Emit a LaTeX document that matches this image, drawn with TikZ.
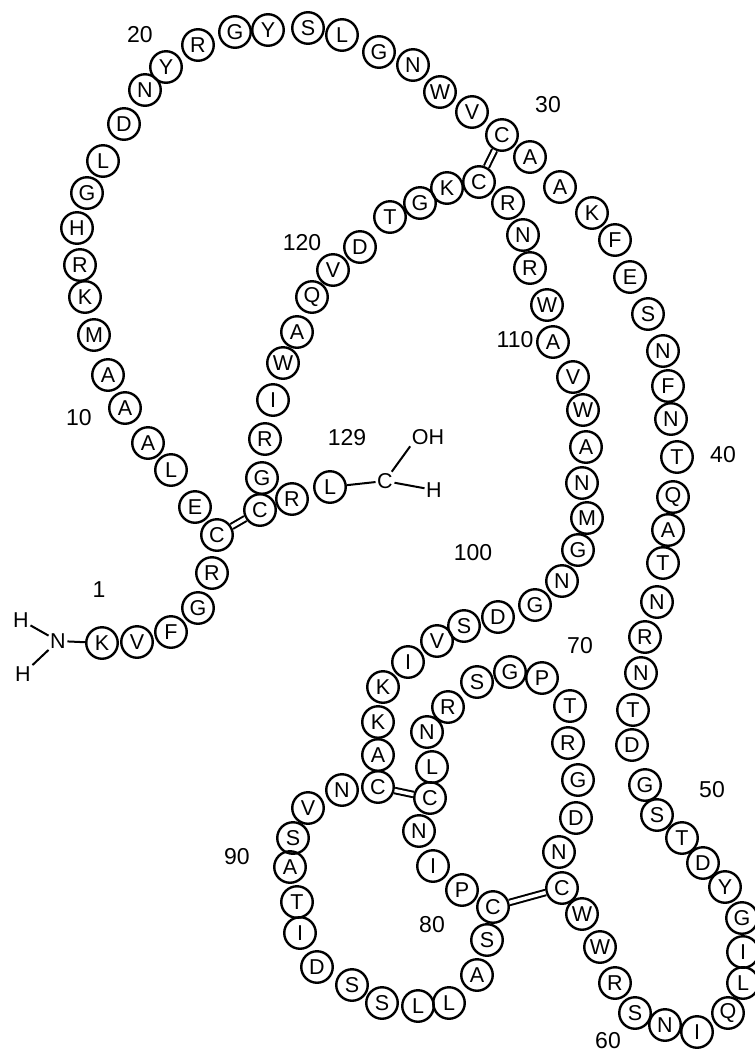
\documentclass[tikz,border=0pt]{standalone}
\usepackage{fontspec}
\setmainfont{Liberation Sans}
\begin{document}
\begin{tikzpicture}[x=1pt,y=-1pt,
  res/.style={circle,draw,line width=2.4pt,minimum size=31.5pt,inner sep=0pt,font=\fontsize{21.5}{21.5}\selectfont},
  lab/.style={font=\fontsize{23}{23}\selectfont,inner sep=0pt},
  atom/.style={font=\fontsize{21.5}{21.5}\selectfont,inner sep=1.5pt},
  ss/.style={line width=2pt,double,double distance=3.5pt},
  bond/.style={line width=2pt}]
\useasboundingbox (0,0) rectangle (755,1053);
\foreach \n/\l/\x/\y in {
1/K/102/643, 2/V/137/642, 3/F/171/632, 4/G/198/608, 5/R/212/573,
6/C/217/535, 7/E/195/507, 8/L/171/470, 9/A/148/443, 10/A/125/408,
11/A/108/375, 12/M/94/335, 13/K/85/297, 14/R/80/265, 15/H/77/228,
16/G/87/193, 17/L/103/161, 18/D/124/124, 19/N/145/90, 20/Y/166/67,
21/R/198/45, 22/G/235/32, 23/Y/268/30, 24/S/308/28, 25/L/342/35,
26/G/379/52, 27/N/413/65, 28/W/440/92, 29/V/472/112, 30/C/502/135,
31/A/530/157, 32/A/560/187, 33/K/592/213, 34/F/615/240, 35/E/630/277,
36/S/648/314, 37/N/663/351, 38/F/668/386, 39/N/671/419, 40/T/677/457,
41/Q/673/497, 42/A/668/530, 43/T/663/563, 44/N/657/602, 45/R/645/637,
46/N/641/673, 47/T/633/710, 48/D/632/745, 49/G/645/785, 50/S/657/815,
51/T/682/838, 52/D/703/863, 53/Y/725/887, 54/G/742/918, 55/I/743/952,
56/L/743/983, 57/Q/728/1013, 58/I/697/1032, 59/N/665/1025, 60/S/635/1013,
61/R/615/983, 62/W/600/947, 63/W/582/914, 64/C/562/888, 65/N/559/852,
66/D/576/818, 67/G/578/780, 68/R/568/743, 69/T/570/706, 70/P/542/678,
71/G/510/672, 72/S/477/682, 73/R/448/707, 74/N/427/732, 75/L/432/767,
76/C/430/798, 77/N/419/831, 78/I/433/866, 79/P/462/890, 80/C/493/907,
81/S/487/940, 82/A/477/975, 83/L/449/1003, 84/L/418/1006, 85/S/382/1003,
86/S/352/985, 87/D/317/967, 88/I/300/933, 89/T/297/902, 90/A/290/867,
91/S/293/838, 92/V/308/808, 93/N/342/790, 94/C/378/787, 95/A/378/755,
96/K/378/722, 97/K/383/687, 98/I/408/662, 99/V/437/641, 100/S/464/626,
101/D/498/617, 102/G/535/605, 103/N/562/581, 104/G/578/550, 105/M/587/518,
106/N/582/483, 107/A/586/447, 108/W/583/410, 109/V/573/377, 110/A/553/342,
111/W/547/305, 112/R/530/268, 113/N/523/235, 114/R/508/203, 115/C/479/182,
116/K/447/188, 117/G/420/203, 118/T/390/217, 119/D/360/247, 120/V/333/270,
121/Q/312/297, 122/A/297/332, 123/W/283/363, 124/I/273/400, 125/R/265/439,
126/G/262/478, 127/C/260/510, 128/R/292/499, 129/L/330/487}
  \node[res] (a\n) at (\x,\y) {\l};
% disulfide bridges
\draw[ss] (a30) -- (a115);
\draw[ss] (a6) -- (a127);
\draw[ss] (a76) -- (a94);
\draw[ss] (a64) -- (a80);
% N-terminus
\node[atom] (nN) at (58,641) {N};
\node[atom] (h1) at (21,620) {H};
\node[atom] (h2) at (23,674) {H};
\draw[bond] (nN) -- (a1);
\draw[bond] (h1) -- (nN);
\draw[bond] (h2) -- (nN);
% C-terminus
\node[atom] (cC) at (385,481) {C};
\node[atom] (oh) at (428,437) {OH};
\node[atom] (hc) at (434,490) {H};
\draw[bond] (a129) -- (cC);
\draw[bond] (cC) -- (oh.south west);
\draw[bond] (cC) -- (hc);
% sequence numbers
\node[lab] (l1) at (99,590) {1};
\node[lab] (l10) at (79,418) {10};
\node[lab] (l20) at (140,35) {20};
\node[lab] (l30) at (548,105) {30};
\node[lab] (l40) at (723,455) {40};
\node[lab] (l50) at (712,790) {50};
\node[lab] (l60) at (608,1041) {60};
\node[lab] (l70) at (580,646) {70};
\node[lab] (l80) at (432,925) {80};
\node[lab] (l90) at (237,857) {90};
\node[lab] (l100) at (473,553) {100};
\node[lab] (l110) at (515,340) {110};
\node[lab] (l120) at (302,243) {120};
\node[lab] (l129) at (347,438) {129};
\end{tikzpicture}
\end{document}
